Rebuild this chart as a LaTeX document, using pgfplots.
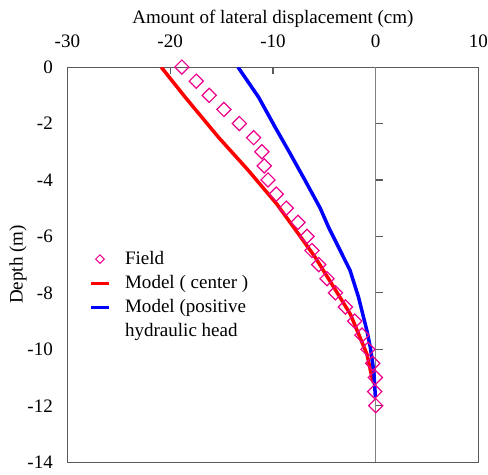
\documentclass[border=0pt]{standalone}
\usepackage{pgfplots}
\pgfplotsset{compat=1.18}
\usepackage{fontspec}
\setmainfont{Liberation Serif}
\definecolor{framegray}{RGB}{90,90,90}
\definecolor{zerogray}{RGB}{128,128,128}
\begin{document}
\fontsize{19}{23}\selectfont
\begin{tikzpicture}
\begin{axis}[
  width=409bp, height=393bp, scale only axis,
  xmin=-30, xmax=10, ymin=-14, ymax=0,
  xtick={-30,-20,...,10}, ytick={-14,-12,...,0},
  xtick pos=upper, xticklabel pos=upper,
  ytick pos=left, ytick style={draw=none},
  tick align=inside, major tick length=7bp,
  every tick/.style={framegray, line width=1.2bp},
  axis line style={framegray, line width=1.2bp},
  /pgf/number format/assume math mode=true,
  xlabel={Amount of lateral displacement (cm)},
  ylabel={Depth (m)},
  xlabel style={yshift=-6bp},
  ylabel style={yshift=-12bp},
  xticklabel style={yshift=13bp, inner xsep=0pt},
  yticklabel style={xshift=-8bp},
  legend style={draw=none, fill=none, at={(0.047,0.545)}, anchor=north west,
    cells={anchor=west}, row sep=4bp, column sep=13bp},
]
\draw[zerogray, line width=1.3bp] (axis cs:0,0) -- (axis cs:0,-14);
\draw[framegray, line width=1.2bp] (axis cs:0,-2) -- (axis cs:0.7,-2);
\draw[framegray, line width=1.2bp] (axis cs:0,-4) -- (axis cs:0.7,-4);
\draw[framegray, line width=1.2bp] (axis cs:0,-6) -- (axis cs:0.7,-6);
\draw[framegray, line width=1.2bp] (axis cs:0,-8) -- (axis cs:0.7,-8);
\draw[framegray, line width=1.2bp] (axis cs:0,-10) -- (axis cs:0.7,-10);
\draw[framegray, line width=1.2bp] (axis cs:0,-12) -- (axis cs:0.7,-12);
\addlegendimage{only marks, mark=square, mark size=3bp, mark options={rotate=45, magenta, line width=1bp, fill=white}}
\addlegendentry{Field}
\addlegendimage{red, line width=3bp}
\addlegendentry{Model ( center )}
\addlegendimage{blue, line width=3bp}
\addlegendentry{Model (positive}
\addlegendimage{empty legend}
\addlegendentry{hydraulic head}
\addplot[red, line width=3.5bp, forget plot] coordinates {
(-20.87,0) (-18.53,-1.07) (-15.29,-2.49) (-12.37,-3.67) (-9.61,-4.86)
(-7.5,-5.92) (-5.87,-6.75) (-4.25,-7.7) (-2.46,-8.76) (-0.85,-10.18)
(-0.36,-11) (-0.2,-11.2)};
\addplot[blue, line width=3.5bp, forget plot] coordinates {
(-13.4,0) (-11.39,-1.07) (-9.77,-2.14) (-8.47,-2.97) (-6.85,-4.03)
(-5.4,-5.0) (-4.58,-5.68) (-3.28,-6.63) (-2.5,-7.2) (-1.66,-8.17)
(-0.85,-9.35) (-0.52,-9.94) (-0.19,-10.77) (-0.03,-11.7)};
\addplot[only marks, mark=square, mark size=5bp,
  mark options={rotate=45, magenta, line width=1.2bp, fill=white}, forget plot] coordinates {
(-18.86,0) (-17.46,-0.5) (-16.2,-1) (-14.77,-1.5) (-13.27,-2) (-11.88,-2.5)
(-11.07,-3) (-10.84,-3.5) (-10.48,-4) (-9.67,-4.5) (-8.7,-5) (-7.56,-5.5)
(-6.69,-6) (-6.2,-6.5) (-5.55,-7) (-4.74,-7.5) (-3.92,-8) (-2.95,-8.5)
(-2.04,-9) (-1.33,-9.5) (-0.75,-10) (-0.29,-10.5) (-0.03,-11) (-0.1,-11.5)
(0,-12)};
\end{axis}
\path ([yshift=4bp]current axis.outer north) ([xshift=-3bp]current axis.outer west);
\end{tikzpicture}
\end{document}
